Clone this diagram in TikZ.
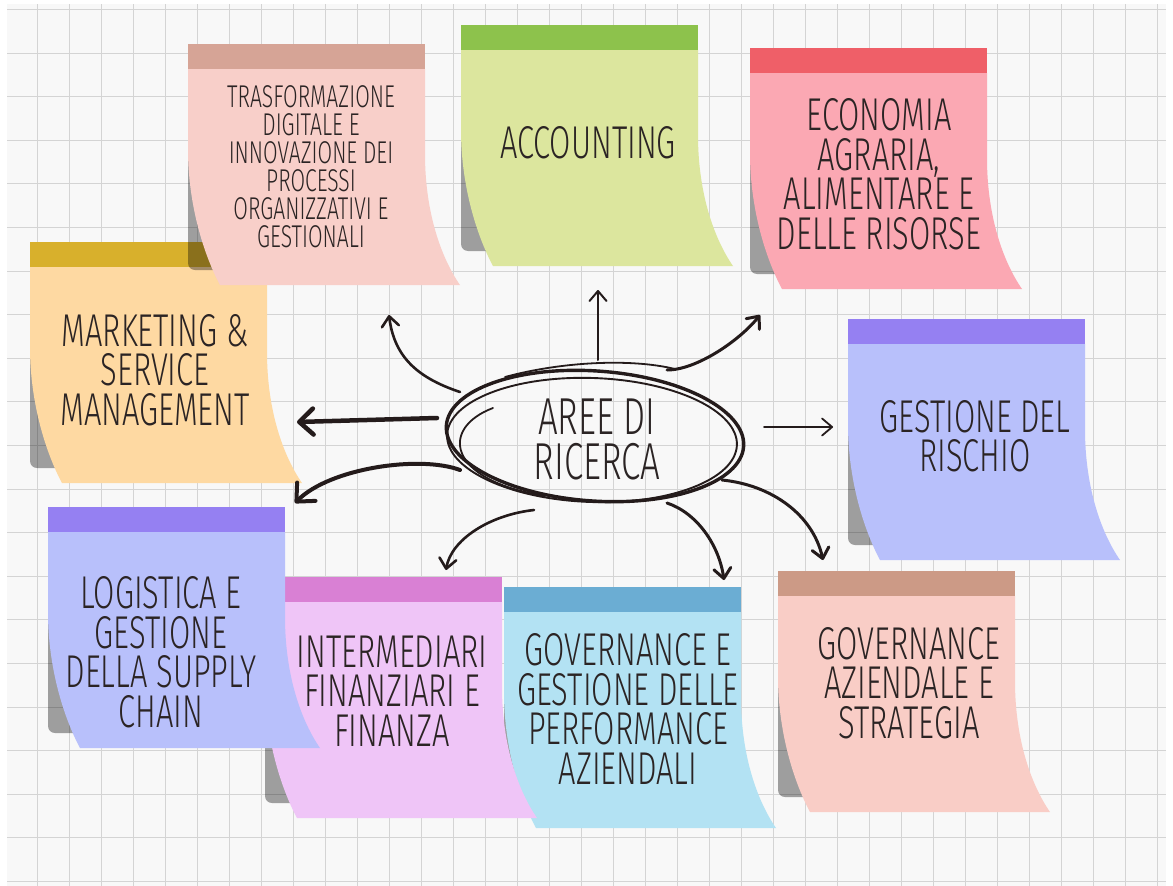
\documentclass[tikz,border=0pt]{standalone}
\usepackage{fontspec}
\usetikzlibrary{arrows.meta,shapes.geometric}
\newfontfamily\notefont{Fira Sans}[UprightFont=* Light, FakeStretch=0.67]
\definecolor{bgc}{HTML}{F8F8F8}
\definecolor{gridc}{HTML}{D4D4D4}
\definecolor{inkc}{HTML}{241B1B}
\definecolor{txtc}{HTML}{2B2424}
\definecolor{trasfband}{HTML}{D6A496}
\definecolor{trasfbody}{HTML}{F8CFC9}
\definecolor{accband}{HTML}{8DC24C}
\definecolor{accbody}{HTML}{DCE69E}
\definecolor{ecoband}{HTML}{EF5F68}
\definecolor{ecobody}{HTML}{FBA8B3}
\definecolor{lavband}{HTML}{9580F2}
\definecolor{lavbody}{HTML}{B8C0FB}
\definecolor{markband}{HTML}{D8B02C}
\definecolor{markbody}{HTML}{FED9A2}
\definecolor{interband}{HTML}{D980D4}
\definecolor{interbody}{HTML}{EFC5F7}
\definecolor{goveband}{HTML}{6BADD3}
\definecolor{govebody}{HTML}{B3E2F3}
\definecolor{govazband}{HTML}{CC9A86}
\definecolor{govazbody}{HTML}{F9CDC6}
\newcommand{\snote}[4]{%
  \begin{scope}[shift={(#1,#2)}]
    \fill[black, opacity=0.36, rounded corners=7pt] (0,10) rectangle (60,226);
    \fill[#4] (0,25) -- (237,25) -- (237,110) .. controls (237,170) and (254,215) .. (272,241)
      -- (32,241) .. controls (18,215) and (0,165) .. (0,105) -- cycle;
    \fill[#3] (0,0) rectangle (237,25);
  \end{scope}}
\tikzset{
  notetext/.style={text=txtc, align=center, inner sep=0pt, font=\notefont\fontsize{46}{39.5}\selectfont},
  smalltext/.style={text=txtc, align=center, inner sep=0pt, font=\notefont\fontsize{31.5}{28}\selectfont},
  ink/.style={draw=inkc, line cap=round, line join=round},
  bigtip/.style={-{Straight Barb[length=14pt,width=26pt,line cap=round,line join=round]}},
  smalltip/.style={-{Straight Barb[length=10pt,width=17pt,line cap=round,line join=round]}},
}
\begin{document}
\begin{tikzpicture}[x=1pt,y=-1pt]
\useasboundingbox (0,0) rectangle (1173,886);
\fill[white] (0,0) rectangle (1173,886);
\fill[bgc] (7,4) rectangle (1166,886);
% grid
\begin{scope}
  \clip (7,4) rectangle (1166,886);
  \foreach \x in {5,37,...,1170} \draw[gridc, line width=0.8pt] (\x,4) -- (\x,886);
  \foreach \y in {9.4,53,...,890} \draw[gridc, line width=0.8pt] (7,\y) -- (1166,\y);
\end{scope}
% sticky notes
\snote{30}{242}{markband}{markbody}
\snote{188}{44}{trasfband}{trasfbody}
\snote{461}{25}{accband}{accbody}
\snote{750}{48}{ecoband}{ecobody}
\snote{848}{319}{lavband}{lavbody}
\snote{778}{571}{govazband}{govazbody}
\snote{504}{587}{goveband}{govebody}
\snote{265}{577}{interband}{interbody}
\snote{48}{507}{lavband}{lavbody}
% texts
\node[smalltext] (trasf) at (311,167) {TRASFORMAZIONE\\DIGITALE E\\INNOVAZIONE DEI\\PROCESSI\\ORGANIZZATIVI E\\GESTIONALI};
\node[notetext] (acc) at (588,143) {ACCOUNTING};
\node[notetext] (eco) at (879,174) {ECONOMIA\\AGRARIA,\\ALIMENTARE E\\DELLE RISORSE};
\node[notetext] (gest) at (975,436) {GESTIONE DEL\\RISCHIO};
\node[notetext] (mark) at (155,370) {MARKETING \&\\SERVICE\\MANAGEMENT};
\node[notetext] (logi) at (161,652) {LOGISTICA E\\GESTIONE\\DELLA SUPPLY\\CHAIN};
\node[notetext] (inter) at (392,691) {INTERMEDIARI\\FINANZIARI E\\FINANZA};
\node[notetext] (gove) at (628,709) {GOVERNANCE E\\GESTIONE DELLE\\PERFORMANCE\\AZIENDALI};
\node[notetext] (govaz) at (909,683) {GOVERNANCE\\AZIENDALE E\\STRATEGIA};
% centre
\node[ellipse, minimum width=298pt, minimum height=132pt, inner sep=0pt, text=txtc, align=center,
      font=\notefont\fontsize{52}{45}\selectfont] (cen) at (597,439) {AREE DI\\RICERCA};
\draw[ink, line width=3.4pt, rotate around={-4:(595,436)}] (595,436) ellipse [x radius=149, y radius=65];
\draw[ink, line width=1.9pt, rotate around={-2:(592,440)}] (592,440) ellipse [x radius=145, y radius=62];
\coordinate (t1) at (505,377);
\coordinate (t2) at (675,369);
\draw[ink, line width=1.8pt] (t1) .. controls (560,362) and (630,358) .. (t2);
\coordinate (l1) at (493,408);
\coordinate (l2) at (545,496);
\draw[ink, line width=1.8pt] (l1) .. controls (440,428) and (446,480) .. (l2);
% arrow end points
\coordinate (s1) at (460,392); \coordinate (e1) at (389,315);
\coordinate (s2) at (598,360); \coordinate (e2) at (598,290);
\coordinate (s3) at (437,418); \coordinate (e3) at (297,422);
\coordinate (s4) at (460,470); \coordinate (e4) at (295,503);
\coordinate (s5) at (667,370); \coordinate (e5) at (760,315);
\coordinate (s6) at (764,427); \coordinate (e6) at (833,427);
\coordinate (s7) at (722,480); \coordinate (e7) at (823,560);
\coordinate (s8) at (667,503); \coordinate (e8) at (724,580);
\coordinate (s9) at (534,510); \coordinate (e9) at (446,570);
% arrows
\draw[ink, smalltip, line width=2.6pt] (s1) .. controls +(-45,-15) and +(5,40) .. (e1);
\draw[ink, smalltip, line width=2pt] (s2) -- (e2);
\draw[ink, bigtip, line width=4.5pt] (s3) -- (e3);
\draw[ink, bigtip, line width=4pt] (s4) .. controls +(-40,-15) and +(35,-35) .. (e4);
\draw[ink, smalltip, line width=3pt] (s5) .. controls +(30,0) and +(-20,25) .. (e5);
\draw[ink, smalltip, line width=1.8pt] (s6) -- (e6);
\draw[ink, smalltip, line width=3pt] (s7) .. controls +(50,5) and +(-10,-45) .. (e7);
\draw[ink, smalltip, line width=3pt] (s8) .. controls +(30,10) and +(-5,-35) .. (e8);
\draw[ink, smalltip, line width=2.6pt] (s9) .. controls +(-45,5) and +(5,-30) .. (e9);
\end{tikzpicture}
\end{document}
